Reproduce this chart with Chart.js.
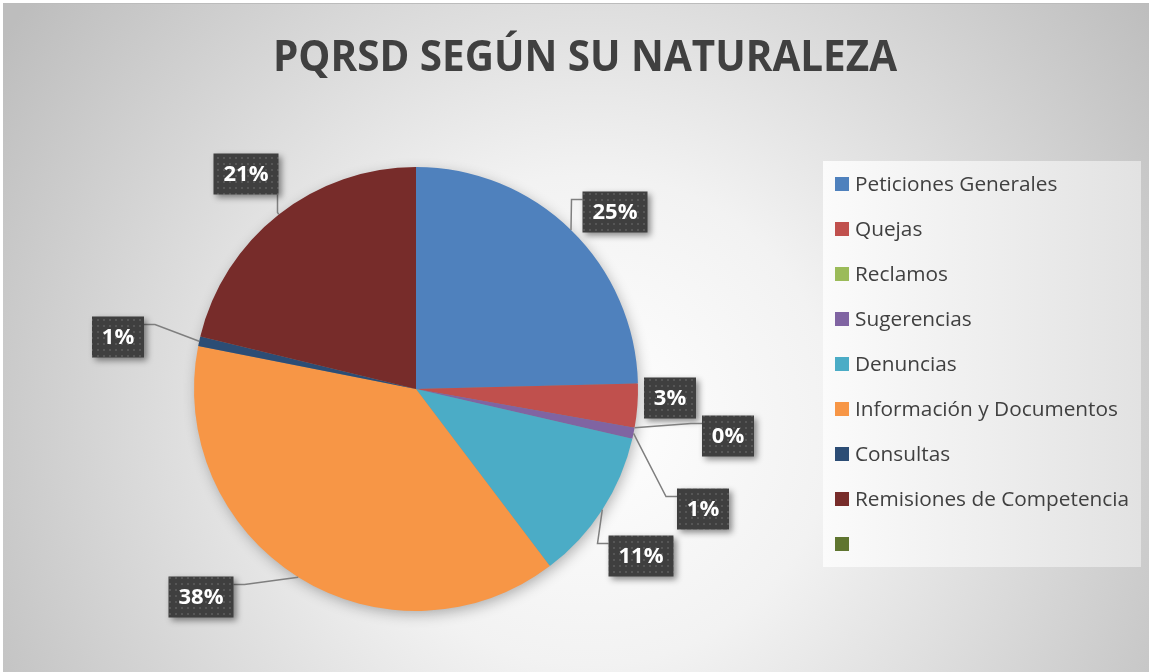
<!DOCTYPE html>
<html>
<head>
<meta charset="utf-8">
<script src="https://cdn.jsdelivr.net/npm/chart.js@4"></script>
<style>
  html, body { margin: 0; padding: 0; background: #fff; }
  #wrap { width: 1149px; height: 672px; }
</style>
</head>
<body>
<div id="wrap"><canvas id="pqrsd" width="1149" height="672"></canvas></div>
<script>
// chart data
const categories = ['Peticiones Generales', 'Quejas', 'Reclamos', 'Sugerencias', 'Denuncias',
  'Información y Documentos', 'Consultas', 'Remisiones de Competencia', ''];
const shares = [24.6, 3.2, 0, 0.8, 11.1, 38.4, 0.7, 21.2, 0];
const sliceColors = ['#4F81BD', '#C0504D', '#9BBB59', '#8064A2', '#4BACC6',
  '#F79646', '#2C4D75', '#772C2A', '#5F7530'];

// label boxes: offset of box centre from pie centre, and whether a leader line is drawn
const labelOffsets = [[199, -177], [254, 9], [312, 47], [287, 120], [225, 167],
  [-215, 208], [-298, -52], [-170, -215], null];
const leaders = [true, false, true, true, true, true, true, true, false];

const total = shares.reduce((a, b) => a + b, 0);
const pct = v => Math.round(v / total * 100) + '%';

function dotPattern(ctx) {
  const c = document.createElement('canvas');
  c.width = 6; c.height = 6;
  const p = c.getContext('2d');
  p.fillStyle = '#3f3f3f';
  p.fillRect(0, 0, 6, 6);
  p.fillStyle = '#565656';
  p.fillRect(1, 1, 2, 2);
  return ctx.createPattern(c, 'repeat');
}

const decor = {
  id: 'decor',
  beforeDraw(chart) {
    const ctx = chart.ctx;
    ctx.save();
    ctx.fillStyle = '#fff';
    ctx.fillRect(0, 0, 1149, 672);
    const g = ctx.createRadialGradient(590, 420, 0, 590, 420, 700);
    g.addColorStop(0, '#ffffff');
    g.addColorStop(0.35, '#f2f2f2');
    g.addColorStop(1, '#bdbdbd');
    ctx.fillStyle = g;
    ctx.fillRect(3, 3, 1146, 669);
    ctx.fillStyle = '#bcbcbc';
    ctx.fillRect(3, 3, 1146, 1);

    // title
    ctx.fillStyle = '#404040';
    ctx.font = 'bold 43px "Open Sans"';
    ctx.textAlign = 'left';
    ctx.textBaseline = 'alphabetic';
    const title = 'PQRSD SEGÚN SU NATURALEZA';
    const w = ctx.measureText(title).width;
    ctx.save();
    ctx.translate(273, 71);
    ctx.scale(624 / w, 1);
    ctx.fillText(title, 0, 0);
    ctx.restore();

    // legend
    const lg = ctx.createLinearGradient(823, 0, 1141, 0);
    lg.addColorStop(0, '#fbfbfb');
    lg.addColorStop(1, '#e2e2e2');
    ctx.fillStyle = lg;
    ctx.fillRect(823, 161, 318, 406);
    ctx.font = '20.8px "Open Sans"';
    categories.forEach((name, i) => {
      const y = 177 + i * 45;
      ctx.fillStyle = sliceColors[i];
      ctx.fillRect(835, y, 14, 14);
      ctx.fillStyle = '#404040';
      ctx.fillText(name, 855, y + 14);
    });
    ctx.restore();
  },
  beforeDatasetsDraw(chart) {
    const arc = chart.getDatasetMeta(0).data[0];
    const ctx = chart.ctx;
    ctx.save();
    ctx.shadowColor = 'rgba(0,0,0,0.3)';
    ctx.shadowBlur = 14;
    ctx.shadowOffsetX = 2;
    ctx.shadowOffsetY = 4;
    ctx.fillStyle = '#888';
    ctx.beginPath();
    ctx.arc(arc.x, arc.y, arc.outerRadius - 1, 0, Math.PI * 2);
    ctx.fill();
    ctx.restore();
  },
  afterDatasetsDraw(chart) {
    const ctx = chart.ctx;
    const pattern = dotPattern(ctx);
    const arcs = chart.getDatasetMeta(0).data;
    ctx.save();
    ctx.font = 'bold 22px "Open Sans"';
    ctx.textAlign = 'center';
    ctx.textBaseline = 'middle';
    arcs.forEach((a, i) => {
      const off = labelOffsets[i];
      if (!off) return;
      const cx = a.x + off[0], cy = a.y + off[1];
      const text = pct(shares[i]);
      const bw = Math.round(ctx.measureText(text).width + 20), bh = 41;
      const left = cx - bw / 2, top = cy - bh / 2;

      if (leaders[i]) {
        const mid = (a.startAngle + a.endAngle) / 2;
        const px = a.x + a.outerRadius * Math.cos(mid);
        const py = a.y + a.outerRadius * Math.sin(mid);
        ctx.strokeStyle = '#7f7f7f';
        ctx.lineWidth = 1.5;
        ctx.beginPath();
        ctx.moveTo(px, py);
        if (px >= left - 6 && px <= left + bw + 6) {
          const vx = Math.min(Math.max(px, left + 2), left + bw - 1);
          ctx.lineTo(vx, py - 2);
          ctx.lineTo(vx, py < top ? top : top + bh);
        } else {
          const ex = px < left ? left : left + bw;
          const qy = top + 8;
          ctx.lineTo(ex + (px < left ? -11 : 11), qy);
          ctx.lineTo(ex, qy);
        }
        ctx.stroke();
      }

      ctx.save();
      ctx.shadowColor = 'rgba(0,0,0,0.45)';
      ctx.shadowBlur = 6;
      ctx.shadowOffsetX = 3;
      ctx.shadowOffsetY = 3;
      ctx.fillStyle = pattern;
      ctx.fillRect(left, top, bw, bh);
      ctx.restore();
      ctx.fillStyle = '#ffffff';
      ctx.fillText(text, cx, cy + 1);
    });
    ctx.restore();
  }
};

new Chart(document.getElementById('pqrsd'), {
  type: 'pie',
  data: {
    labels: categories,
    datasets: [{
      data: shares,
      backgroundColor: sliceColors,
      borderWidth: 0
    }]
  },
  options: {
    responsive: false,
    animation: false,
    layout: { padding: { left: 194, right: 511, top: 167, bottom: 61 } },
    plugins: {
      legend: { display: false },
      title: { display: false },
      tooltip: { enabled: false }
    }
  },
  plugins: [decor]
});
</script>
</body>
</html>
